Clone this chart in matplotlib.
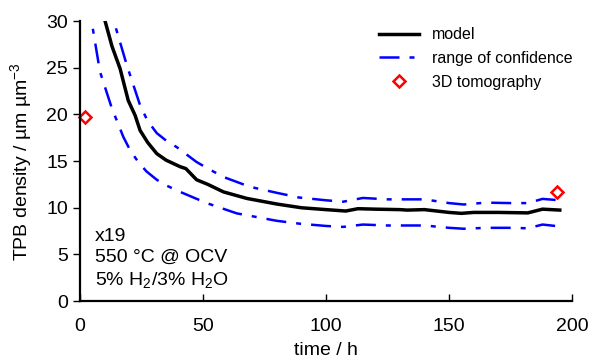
import matplotlib
matplotlib.use("Agg")
import matplotlib.pyplot as plt

plt.rcParams.update({
    "font.family": ["Liberation Sans", "DejaVu Sans"],
    "font.size": 14,
    "mathtext.fontset": "custom",
    "mathtext.rm": "Liberation Sans",
})

# model curve (time in h, TPB density in um/um^3)
t_model = [6, 10.2, 13, 16.3, 19.6, 22.4, 24.4, 27.5, 31.2, 35, 40.7, 43, 47.4, 52, 58.3,
           67.8, 80, 90, 100, 108, 113, 120, 130, 133, 140, 150, 155, 160, 170, 182,
           188, 195]
model = [36, 30.0, 27.3, 24.9, 21.5, 19.9, 18.3, 17.0, 15.8, 15.1, 14.4, 14.2, 13.0,
         12.5, 11.7, 11.0, 10.4, 10.0, 9.8, 9.65, 9.9, 9.85, 9.8, 9.75, 9.8, 9.5, 9.4,
         9.5, 9.5, 9.45, 9.85, 9.75]

t_upper = [10, 14.2, 19.0, 24.4, 27.5, 31.2, 35, 39.3, 47.4, 52, 58.3, 69, 80, 89, 100,
           107, 115, 125, 135, 140, 150, 156, 165, 175, 182, 188, 195]
upper = [35, 29.6, 25.3, 21.0, 19.3, 18.0, 17.2, 16.5, 14.9, 14.2, 13.3, 12.25, 11.6,
         11.1, 10.8, 10.65, 11.05, 10.9, 10.9, 10.9, 10.5, 10.35, 10.55, 10.5, 10.5,
         10.95, 10.8]

t_lower = [2, 4.7, 8.1, 12.9, 17.6, 20.5, 23.7, 27, 31.2, 35, 40.7, 51.5, 63.7, 80, 89,
           100, 107, 115, 125, 135, 140, 150, 156, 165, 175, 182, 188, 195]
lower = [37, 30.0, 24.6, 20.7, 17.6, 16.1, 14.9, 13.9, 13.0, 12.4, 11.7, 10.5, 9.4,
         8.6, 8.3, 8.05, 7.95, 8.2, 8.1, 8.1, 8.1, 7.85, 7.75, 7.85, 7.85, 7.8, 8.2, 8.0]

t_tomo = [2, 194]
tomo = [19.7, 11.7]

fig = plt.figure(figsize=(5.9, 3.58), dpi=100)
ax = fig.add_axes([0.1356, 0.159, 0.834, 0.782])

dash = (0, (8, 4, 2, 4))
ax.plot(t_model, model, color="black", lw=2.5, label="model")
ax.plot(t_upper, upper, color="#0000ff", lw=1.8, ls=dash, label="range of confidence")
ax.plot(t_lower, lower, color="#0000ff", lw=1.8, ls=dash)
ax.plot(t_tomo, tomo, ls="none", marker="D", ms=6, mfc="white", mec="#ff0000",
        mew=1.8, label="3D tomography", clip_on=False)

ax.set_xlim(0, 200)
ax.set_ylim(0, 30)
ax.set_xticks([0, 50, 100, 150, 200])
ax.set_yticks([0, 5, 10, 15, 20, 25, 30])
ax.tick_params(axis="x", direction="in", length=5, width=1, pad=12)
ax.tick_params(axis="y", direction="out", length=5, width=1)
for s in ("top", "right"):
    ax.spines[s].set_visible(False)
for s in ("left", "bottom"):
    ax.spines[s].set_linewidth(1.6)

ax.set_xlabel("time / h", labelpad=5)
ax.set_ylabel("TPB density / µm µm$^{-3}$", labelpad=8)

ax.text(0.03, 0.26, "x19\n550 °C @ OCV\n5% H$_2$/3% H$_2$O",
        transform=ax.transAxes, ha="left", va="top", linespacing=1.3)

ax.legend(loc="upper right", frameon=False, fontsize=11.5, handlelength=2.5,
          bbox_to_anchor=(1.03, 1.03), labelspacing=0.55)

fig.savefig("out.png", dpi=100)
